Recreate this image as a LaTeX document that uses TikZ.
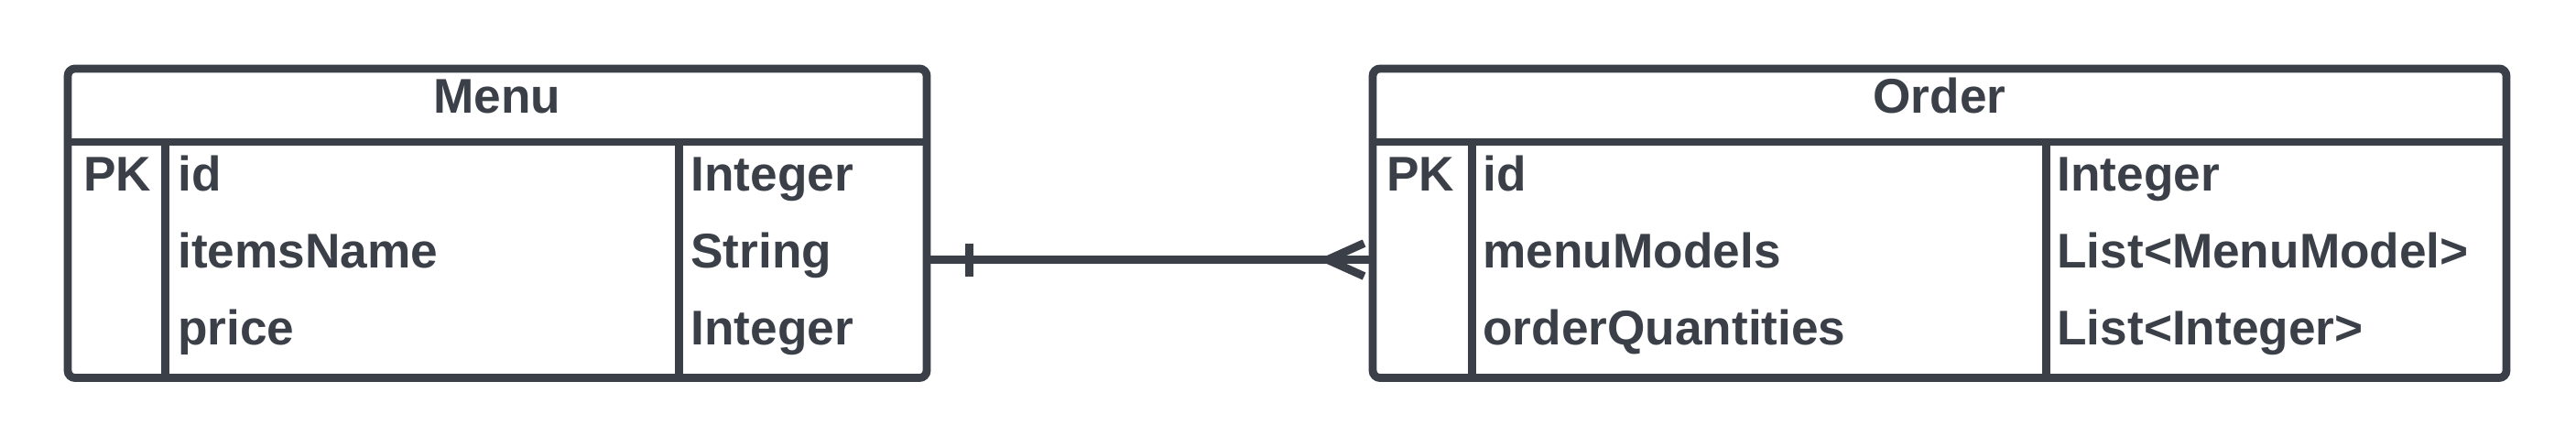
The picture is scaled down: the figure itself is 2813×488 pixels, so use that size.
\documentclass[tikz,border=0pt]{standalone}
\usepackage{fontspec}
\setmainfont{Liberation Sans}
\usetikzlibrary{calc,positioning}
\definecolor{erdark}{RGB}{58,63,72}

\begin{document}
\begin{tikzpicture}[x=0.25pt,y=-0.25pt,
	entity/.style = {draw=erdark, line width=2.2pt, rounded corners=2pt, minimum height=84.4pt, inner sep=0pt},
	sep/.style = {draw=erdark, line width=2.2pt},
	title/.style = {font=\bfseries\fontsize{13.3}{16}\selectfont, text=erdark, anchor=base, inner sep=0pt},
	field/.style = {font=\bfseries\fontsize{13.3}{16}\selectfont, text=erdark, anchor=base west, inner sep=0pt},
	rel/.style = {draw=erdark, line width=2.2pt}]
	\useasboundingbox (0,0) rectangle (2813,488);

	% Menu table
	\node[entity, minimum width=234.5pt] (menu) at (543,243.75) {};
	\draw[sep] ($(menu.north west)+(0,84.5)$) -- ($(menu.north east)+(0,84.5)$);
	\draw[sep] ($(menu.north west)+(111,84.5)$) -- ($(menu.south west)+(111,0)$);
	\draw[sep] ($(menu.north west)+(672,84.5)$) -- ($(menu.south west)+(672,0)$);
	\node[title] (m-title) at ($(menu.north)+(0,53)$) {Menu};
	\node[field] (m-pk) at ($(menu.north west)+(21,138)$) {PK};
	\node[field] (m-id) at ($(menu.north west)+(124,138)$) {id};
	\node[field] (m-name) at ($(menu.north west)+(124,222)$) {itemsName};
	\node[field] (m-price) at ($(menu.north west)+(124,306)$) {price};
	\node[field] (m-id-t) at ($(menu.north west)+(684,138)$) {Integer};
	\node[field] (m-name-t) at ($(menu.north west)+(684,222)$) {String};
	\node[field] (m-price-t) at ($(menu.north west)+(684,306)$) {Integer};

	% Order table
	\node[entity, minimum width=309.5pt] (order) at (2118,243.75) {};
	\draw[sep] ($(order.north west)+(0,84.5)$) -- ($(order.north east)+(0,84.5)$);
	\draw[sep] ($(order.north west)+(113,84.5)$) -- ($(order.south west)+(113,0)$);
	\draw[sep] ($(order.north west)+(740,84.5)$) -- ($(order.south west)+(740,0)$);
	\node[title] (o-title) at ($(order.north)+(0,53)$) {Order};
	\node[field] (o-pk) at ($(order.north west)+(19,138)$) {PK};
	\node[field] (o-id) at ($(order.north west)+(124,138)$) {id};
	\node[field] (o-models) at ($(order.north west)+(124,222)$) {menuModels};
	\node[field] (o-qty) at ($(order.north west)+(124,306)$) {orderQuantities};
	\node[field] (o-id-t) at ($(order.north west)+(751,138)$) {Integer};
	\node[field] (o-models-t) at ($(order.north west)+(751,222)$) {List<MenuModel>};
	\node[field] (o-qty-t) at ($(order.north west)+(751,306)$) {List<Integer>};

	% relation: one Menu -- many Order
	\coordinate (row2) at ($(menu.north west)+(0,213)$);
	\coordinate (m-end) at (menu.east |- row2);
	\coordinate (o-end) at (order.west |- row2);
	\draw[rel] (m-end) -- (o-end);
	\draw[rel] ($(m-end)+(42,-18)$) -- ($(m-end)+(42,18)$);
	\draw[rel] ($(o-end)+(-45,0)$) -- ($(o-end)+(-5,-18)$);
	\draw[rel] ($(o-end)+(-45,0)$) -- ($(o-end)+(-5,18)$);
\end{tikzpicture}
\end{document}
